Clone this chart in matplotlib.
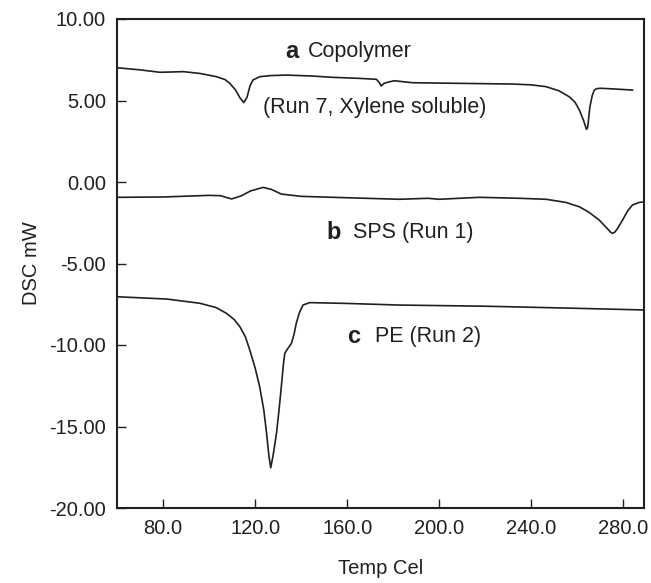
"""
DSC heating curves: copolymer vs. SPS vs. PE.
"""
import matplotlib
matplotlib.use("Agg")
import matplotlib.pyplot as plt
from matplotlib.ticker import FormatStrFormatter

# curve a: copolymer (Run 7, xylene soluble)
A_TEMP = [60, 70, 78.7, 88.8, 96, 103.3, 107, 109, 111.5, 113.5, 115.1, 116.5, 117.8,
          119.1, 122, 127, 133.6, 145, 153.8, 165, 172.7, 174, 174.8, 176, 178.4, 180.6,
          188.5, 210, 231.9, 240, 246.4, 252, 256.5, 259, 260.9, 262.8, 263.6, 264,
          264.5, 264.8, 265.5, 266.5, 267.4, 268.5, 270.3, 277, 284]
A_DSC = [7.01, 6.88, 6.73, 6.77, 6.66, 6.46, 6.28, 6.05, 5.65, 5.15, 4.87, 5.2, 5.9,
         6.26, 6.46, 6.53, 6.56, 6.5, 6.42, 6.36, 6.30, 6.1, 5.89, 6.05, 6.15, 6.21,
         6.09, 6.05, 6.01, 5.96, 5.85, 5.6, 5.23, 4.9, 4.42, 3.75, 3.4, 3.23,
         3.35, 3.7, 4.62, 5.3, 5.64, 5.73, 5.75, 5.7, 5.64]

# curve b: SPS (Run 1)
B_TEMP = [60, 80, 100, 105, 109.8, 114, 118, 123.5, 127, 131.4, 140, 153.8, 182.8, 195,
          200, 217.5, 235, 246.4, 255, 260.9, 265, 269.5, 273, 274.5, 275.3, 276.3,
          277.5, 279.7, 282, 284, 287, 289]
B_DSC = [-0.94, -0.92, -0.82, -0.84, -1.04, -0.85, -0.55, -0.33, -0.45, -0.74, -0.88,
         -0.94, -1.06, -1.0, -1.06, -0.94, -1.0, -1.06, -1.25, -1.52, -1.85, -2.33,
         -2.85, -3.08, -3.15, -3.08, -2.85, -2.33, -1.75, -1.41, -1.25, -1.22]

# curve c: PE (Run 2)
C_TEMP = [60, 81.6, 96, 103, 107.6, 111, 113.4, 115.8, 117.7, 120, 122, 123.8, 125, 126,
          126.8, 127.8, 129.3, 130.4, 131.4, 132.3, 132.9, 134.3, 135.8, 137, 137.9,
          139.3, 140.8, 143.7, 160, 182.8, 220, 260, 289]
C_DSC = [-7.04, -7.18, -7.44, -7.7, -8.06, -8.45, -8.88, -9.5, -10.31, -11.4, -12.56,
         -14.0, -15.42, -16.8, -17.53, -16.8, -15.42, -14.0, -12.56, -11.2, -10.51,
         -10.2, -9.9, -9.3, -8.67, -8.0, -7.55, -7.40, -7.45, -7.55, -7.62, -7.75, -7.85]

X_TICKS = [80, 120, 160, 200, 240, 280]
Y_TICKS = [10, 5, 0, -5, -10, -15, -20]

INK = "#231f20"

plt.rcParams["font.family"] = ["Liberation Sans", "DejaVu Sans"]
plt.rcParams["axes.unicode_minus"] = False

fig = plt.figure(figsize=(6.51, 5.83), dpi=100)
ax = fig.add_axes([117 / 651, 1 - 508 / 583, 527 / 651, 489 / 583])

for temp, dsc in [(A_TEMP, A_DSC), (B_TEMP, B_DSC), (C_TEMP, C_DSC)]:
    ax.plot(temp, dsc, color=INK, lw=1.2)

ax.set_xlim(60, 289)
ax.set_ylim(-20, 10)
ax.set_xticks(X_TICKS)
ax.set_yticks(Y_TICKS)
ax.xaxis.set_major_formatter(FormatStrFormatter("%.1f"))
ax.yaxis.set_major_formatter(FormatStrFormatter("%.2f"))
ax.tick_params(direction="in", length=6.5, width=1.0, labelsize=14.5,
               colors=INK, pad=8)
for side in ax.spines.values():
    side.set_linewidth(1.5)
    side.set_color(INK)

ax.set_xlabel("Temp Cel", fontsize=14.5, color=INK)
ax.set_ylabel("DSC mW", fontsize=14.5, color=INK)
ax.xaxis.set_label_coords(0.5, -0.104)
ax.yaxis.set_label_coords(-0.145, 0.5)

# curve annotations
labels = [
    ("a", "Copolymer", 132.9, 142.9, 7.98),
    ("b", "SPS (Run 1)", 151.1, 162.4, -3.07),
    ("c", "PE (Run 2)", 160.2, 171.9, -9.5),
]
for letter, name, x_letter, x_name, y in labels:
    ax.text(x_letter, y, letter, fontsize=17, fontweight="bold", color=INK,
            ha="left", va="center")
    ax.text(x_name, y, name, fontsize=15.5, color=INK, ha="left", va="center")
ax.text(123.3, 4.54, "(Run 7, Xylene soluble)", fontsize=15.5, color=INK,
        ha="left", va="center")

fig.savefig("out.png", dpi=100)
